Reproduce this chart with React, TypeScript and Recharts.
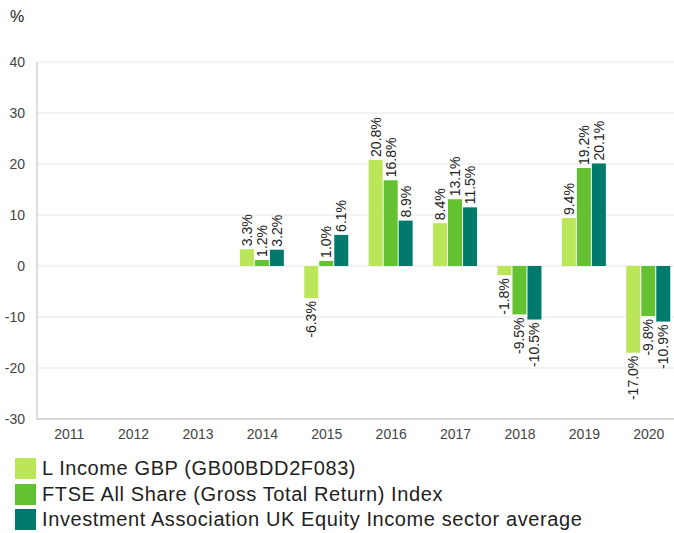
import { Bar, BarChart, CartesianGrid, LabelList, XAxis, YAxis } from 'recharts';

const years = ['2011', '2012', '2013', '2014', '2015', '2016', '2017', '2018', '2019', '2020'];
const fundValues = [null, null, null, 3.3, -6.3, 20.8, 8.4, -1.8, 9.4, -17.0];
const indexValues = [null, null, null, 1.2, 1.0, 16.8, 13.1, -9.5, 19.2, -9.8];
const sectorValues = [null, null, null, 3.2, 6.1, 8.9, 11.5, -10.5, 20.1, -10.9];
const yTicks = [-30, -20, -10, 0, 10, 20, 30, 40];

const seriesNames = [
  'L Income GBP (GB00BDD2F083)',
  'FTSE All Share (Gross Total Return) Index',
  'Investment Association UK Equity Income sector average',
];
const seriesColors = ['#bce65a', '#63c132', '#007b6b'];
const seriesKeys = ['fund', 'index', 'sector'];

const FONT = '"Liberation Sans", Arial, Helvetica, sans-serif';

const data = years.map((year, i) => ({
  year,
  fund: fundValues[i],
  index: indexValues[i],
  sector: sectorValues[i],
}));

// rotated value label, above positive bars and below negative ones
function ValueLabel(props: any) {
  const { x, y, width, height, value } = props;
  if (value === null || value === undefined) return null;
  const top = Math.min(y, y + height);
  const bottom = Math.max(y, y + height);
  const cx = x + width / 2;
  const positive = value >= 0;
  const ty = positive ? top - 3 : bottom + 3;
  return (
    <text
      x={cx}
      y={ty}
      transform={`rotate(-90 ${cx} ${ty})`}
      textAnchor={positive ? 'start' : 'end'}
      dominantBaseline="central"
      fontSize={14}
      fontFamily={FONT}
      fill="#222"
    >
      {`${value.toFixed(1)}%`}
    </text>
  );
}

export default function App() {
  return (
    <div
      style={{
        position: 'absolute',
        left: 0,
        top: 0,
        width: 674,
        height: 533,
        overflow: 'hidden',
        background: '#fff',
        fontFamily: FONT,
      }}
    >
      <div style={{ position: 'absolute', left: 10, top: 8, fontSize: 16, color: '#222' }}>%</div>
      <BarChart
        width={690}
        height={450}
        data={data}
        margin={{ top: 62, right: 9, left: 0, bottom: 0 }}
        barCategoryGap="15%"
        barGap={1}
      >
        <CartesianGrid vertical={false} stroke="#e6e6e6" />
        <XAxis
          dataKey="year"
          height={31}
          tickLine={false}
          axisLine={{ stroke: '#bbb' }}
          tick={{ fontSize: 14, fill: '#444', fontFamily: FONT }}
          tickMargin={4}
        />
        <YAxis
          width={37}
          domain={[-30, 40]}
          ticks={yTicks}
          tickLine={false}
          axisLine={{ stroke: '#bbb' }}
          tick={{ fontSize: 14, fill: '#444', fontFamily: FONT }}
          tickMargin={6}
        />
        {seriesKeys.map((key, i) => (
          <Bar key={key} dataKey={key} name={seriesNames[i]} fill={seriesColors[i]} isAnimationActive={false}>
            <LabelList dataKey={key} content={ValueLabel} />
          </Bar>
        ))}
      </BarChart>
      <div style={{ position: 'absolute', left: 15, top: 456 }}>
        {seriesNames.map((name, i) => (
          <div key={name} style={{ display: 'flex', alignItems: 'center', height: 25.5 }}>
            <div style={{ width: 21, height: 21, background: seriesColors[i], marginRight: 6 }} />
            <span style={{ fontSize: 20, letterSpacing: 0.6, color: '#222' }}>{name}</span>
          </div>
        ))}
      </div>
    </div>
  );
}
